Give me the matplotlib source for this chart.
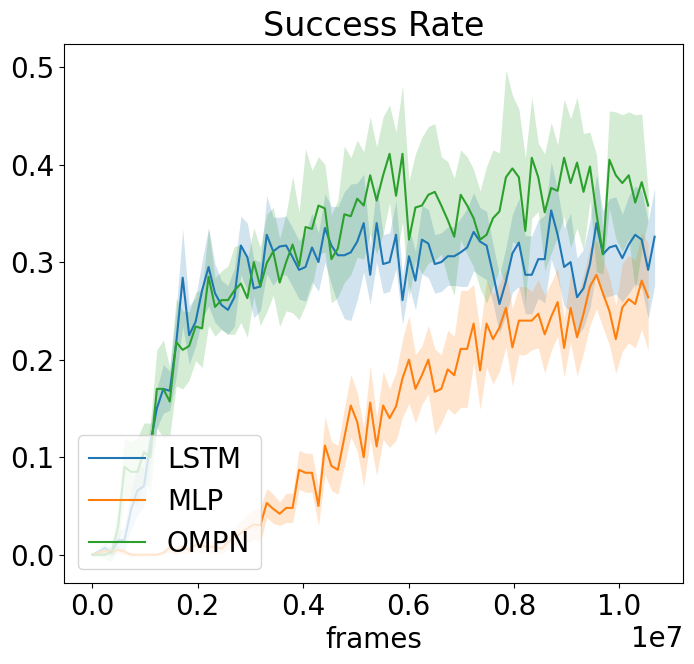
import matplotlib
matplotlib.use("Agg")
import matplotlib.pyplot as plt
import numpy as np

plt.rcParams['font.size'] = 20

# frames between two logged points
step = 122600

lstm_mean = [0.0, 0.003, 0.007, 0.002, 0.015, 0.015, 0.046, 0.066, 0.07, 0.114,
             0.15, 0.17, 0.168, 0.217, 0.284, 0.225, 0.239, 0.271, 0.295, 0.268,
             0.256, 0.251, 0.264, 0.317, 0.305, 0.273, 0.275, 0.328, 0.311, 0.316,
             0.317, 0.305, 0.292, 0.295, 0.315, 0.30, 0.335, 0.317, 0.307, 0.307,
             0.31, 0.321, 0.340, 0.287, 0.340, 0.298, 0.30, 0.328, 0.261, 0.306,
             0.281, 0.323, 0.319, 0.298, 0.30, 0.306, 0.306, 0.310, 0.315, 0.331,
             0.321, 0.317, 0.288, 0.257, 0.28, 0.309, 0.320, 0.287, 0.287, 0.303,
             0.303, 0.353, 0.328, 0.295, 0.30, 0.264, 0.273, 0.298, 0.340, 0.308,
             0.315, 0.317, 0.304, 0.318, 0.328, 0.323, 0.292, 0.326]
lstm_std = [0.002, 0.004, 0.006, 0.004, 0.01, 0.012, 0.02, 0.025, 0.02, 0.02,
            0.02, 0.025, 0.02, 0.035, 0.05, 0.03, 0.025, 0.03, 0.04, 0.03,
            0.025, 0.025, 0.03, 0.03, 0.035, 0.03, 0.025, 0.04, 0.035, 0.03,
            0.03, 0.03, 0.03, 0.035, 0.035, 0.03, 0.035, 0.04, 0.05, 0.065,
            0.07, 0.06, 0.05, 0.03, 0.04, 0.03, 0.03, 0.035, 0.025, 0.03,
            0.03, 0.035, 0.035, 0.03, 0.03, 0.03, 0.03, 0.035, 0.04, 0.04,
            0.035, 0.035, 0.03, 0.03, 0.035, 0.04, 0.045, 0.04, 0.04, 0.04,
            0.045, 0.05, 0.045, 0.04, 0.05, 0.04, 0.04, 0.045, 0.05, 0.045,
            0.05, 0.05, 0.045, 0.05, 0.05, 0.05, 0.05, 0.05]

mlp_mean = [0.0, 0.002, 0.004, 0.003, 0.005, 0.003, 0.0, 0.0, 0.0, 0.0,
            0.0, 0.002, 0.007, 0.003, 0.008, 0.005, 0.01, 0.009, 0.008, 0.008,
            0.006, 0.013, 0.018, 0.022, 0.027, 0.031, 0.03, 0.053, 0.047, 0.042,
            0.048, 0.048, 0.087, 0.084, 0.084, 0.050, 0.112, 0.091, 0.087, 0.12,
            0.153, 0.136, 0.100, 0.156, 0.111, 0.153, 0.140, 0.152, 0.181, 0.200,
            0.170, 0.184, 0.200, 0.167, 0.170, 0.190, 0.184, 0.211, 0.211, 0.237,
            0.189, 0.237, 0.221, 0.233, 0.253, 0.2125, 0.240, 0.240, 0.240, 0.247,
            0.226, 0.244, 0.259, 0.212, 0.253, 0.223, 0.247, 0.275, 0.287, 0.268,
            0.250, 0.221, 0.2535, 0.262, 0.257, 0.281, 0.264]
mlp_std = [0.001, 0.002, 0.003, 0.003, 0.004, 0.003, 0.002, 0.001, 0.001, 0.001,
           0.001, 0.002, 0.005, 0.003, 0.006, 0.004, 0.007, 0.007, 0.006, 0.006,
           0.005, 0.008, 0.01, 0.012, 0.015, 0.015, 0.018, 0.015, 0.015, 0.012,
           0.015, 0.015, 0.02, 0.02, 0.02, 0.02, 0.03, 0.025, 0.025, 0.03,
           0.032, 0.03, 0.03, 0.038, 0.03, 0.035, 0.03, 0.035, 0.04, 0.045,
           0.035, 0.03, 0.035, 0.044, 0.035, 0.04, 0.04, 0.06, 0.06, 0.04,
           0.04, 0.045, 0.046, 0.045, 0.04, 0.04, 0.035, 0.035, 0.03, 0.035,
           0.04, 0.035, 0.035, 0.03, 0.035, 0.04, 0.04, 0.04, 0.035, 0.035,
           0.035, 0.035, 0.045, 0.045, 0.045, 0.05, 0.055]

ompn_mean = [0.0, 0.0, 0.0, 0.003, 0.028, 0.09, 0.085, 0.085, 0.105, 0.10,
             0.17, 0.17, 0.157, 0.218, 0.21, 0.214, 0.234, 0.232, 0.285, 0.254,
             0.261, 0.261, 0.271, 0.278, 0.263, 0.30, 0.275, 0.299, 0.311, 0.279,
             0.30, 0.318, 0.296, 0.336, 0.334, 0.358, 0.355, 0.303, 0.314, 0.349,
             0.347, 0.365, 0.358, 0.389, 0.363, 0.389, 0.411, 0.368, 0.411, 0.323,
             0.356, 0.358, 0.369, 0.372, 0.358, 0.343, 0.326, 0.369, 0.358, 0.345,
             0.323, 0.328, 0.345, 0.352, 0.387, 0.396, 0.387, 0.332, 0.407, 0.387,
             0.351, 0.376, 0.373, 0.407, 0.381, 0.402, 0.372, 0.398, 0.35, 0.308,
             0.405, 0.389, 0.381, 0.389, 0.361, 0.382, 0.358]
ompn_std = [0.001, 0.002, 0.004, 0.01, 0.02, 0.03, 0.03, 0.035, 0.03, 0.035,
            0.04, 0.05, 0.035, 0.045, 0.04, 0.035, 0.035, 0.04, 0.05, 0.03,
            0.03, 0.035, 0.045, 0.04, 0.04, 0.035, 0.04, 0.05, 0.045, 0.045,
            0.05, 0.07, 0.055, 0.08, 0.06, 0.05, 0.045, 0.045, 0.05, 0.07,
            0.06, 0.06, 0.055, 0.06, 0.055, 0.06, 0.05, 0.065, 0.07, 0.06,
            0.055, 0.07, 0.07, 0.07, 0.05, 0.06, 0.06, 0.046, 0.05, 0.05,
            0.05, 0.07, 0.07, 0.06, 0.11, 0.075, 0.07, 0.075, 0.062, 0.035,
            0.06, 0.067, 0.047, 0.06, 0.066, 0.067, 0.06, 0.035, 0.06, 0.02,
            0.05, 0.065, 0.07, 0.065, 0.09, 0.07, 0.015]

runs = [("LSTM", lstm_mean, lstm_std),
        ("MLP", mlp_mean, mlp_std),
        ("OMPN", ompn_mean, ompn_std)]

fig = plt.figure(figsize=(6.94, 6.64), dpi=100)
ax = fig.add_axes([0.0922, 0.122, 0.892, 0.8116])

for name, mean, std in runs:
    mean = np.array(mean)
    std = np.array(std)
    frames = np.arange(len(mean)) * step
    line, = ax.plot(frames, mean, label=name)
    ax.fill_between(frames, mean - std, mean + std, color=line.get_color(),
                    alpha=0.2, linewidth=0)

ax.set_xlim(-0.0535e7, 1.1205e7)
ax.set_ylim(-0.029, 0.5235)
ax.set_title("Success Rate", fontsize=24)
ax.set_xlabel("frames")
ax.legend(loc="lower left")

fig.savefig("out.png", dpi=100)
